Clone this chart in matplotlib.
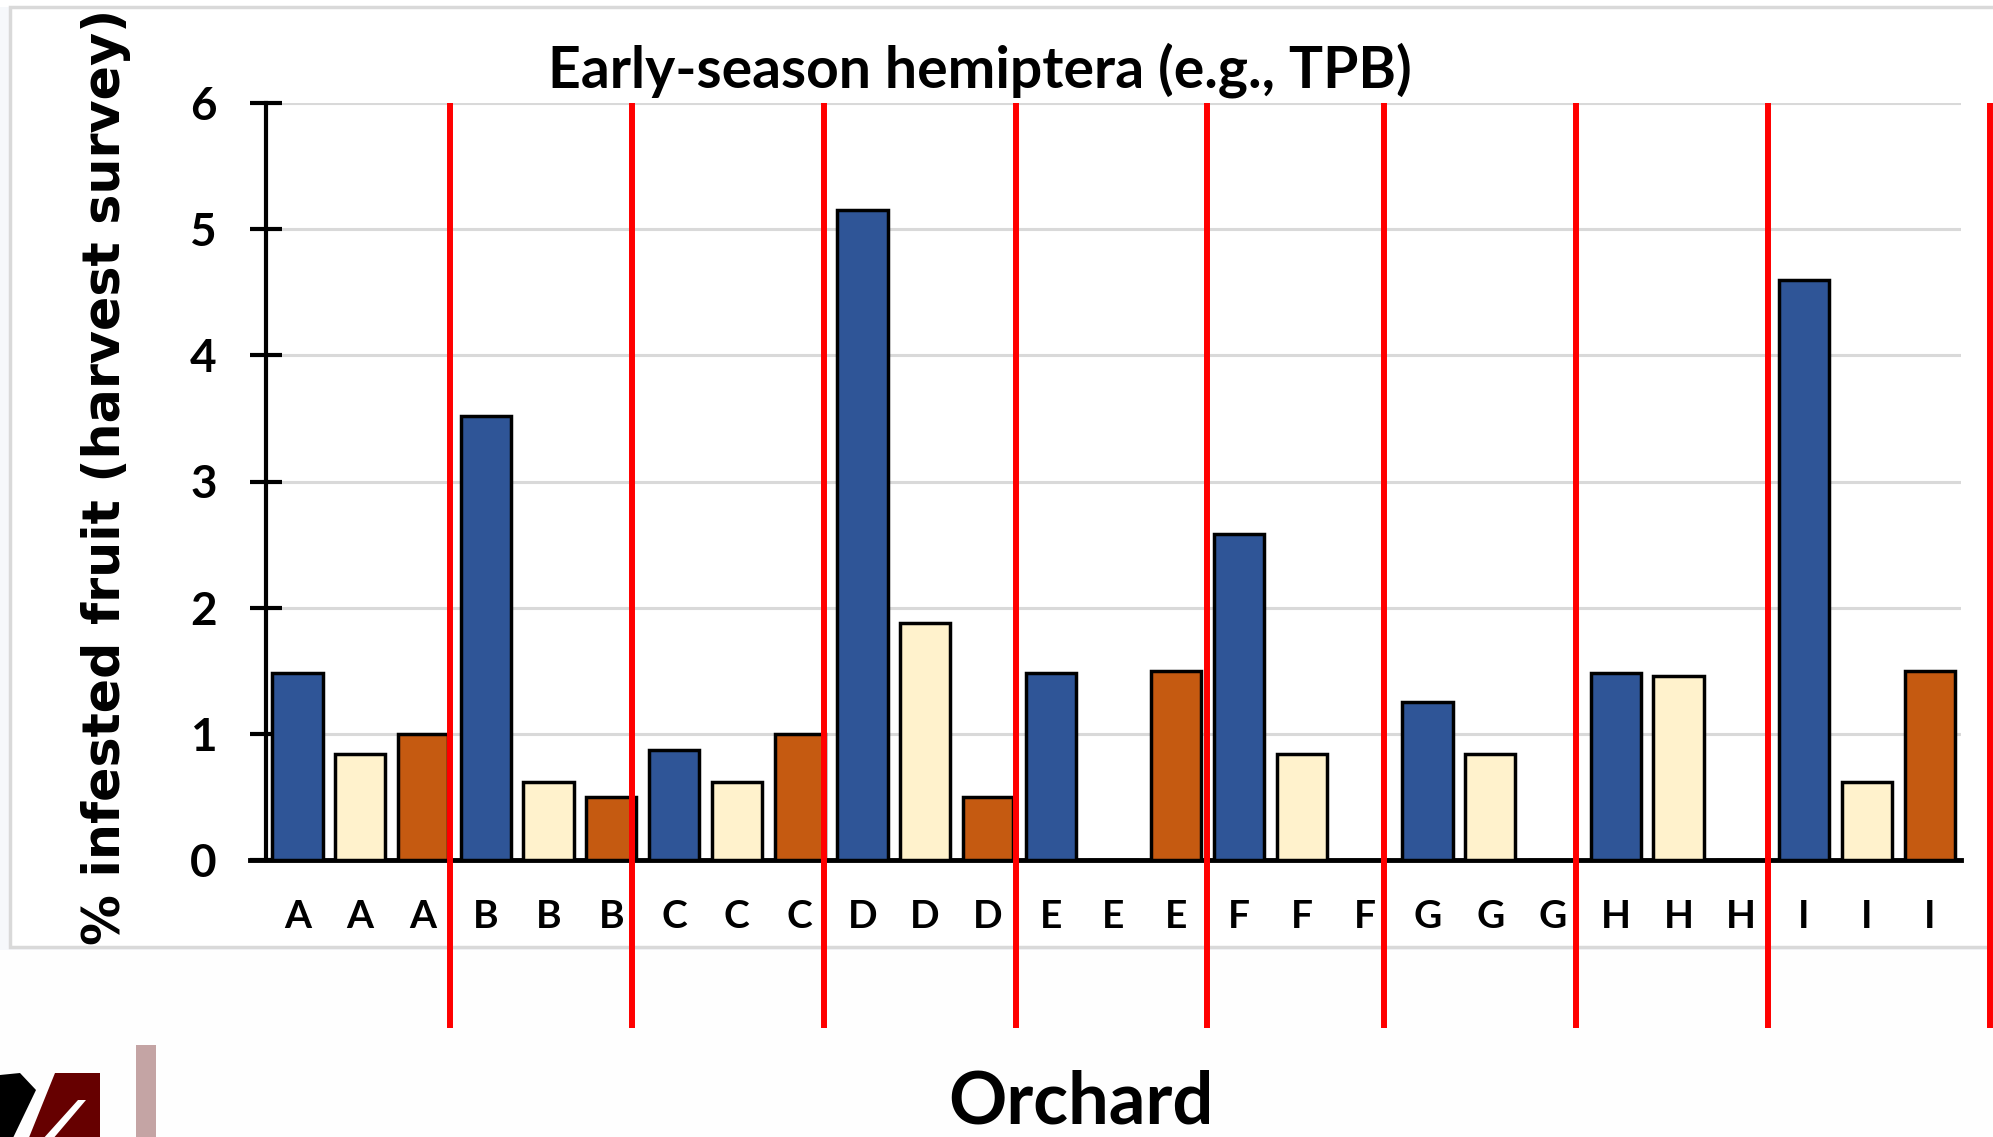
import matplotlib
matplotlib.use("Agg")
import matplotlib.pyplot as plt
from matplotlib.patches import Rectangle, Polygon

plt.rcParams['font.family'] = ['Lato', 'DejaVu Sans']

# harvest survey values, three bars per orchard
orchards = ["A", "B", "C", "D", "E", "F", "G", "H", "I"]
blue_vals = [1.48, 3.52, 0.87, 5.15, 1.48, 2.58, 1.25, 1.48, 4.60]
cream_vals = [0.84, 0.62, 0.62, 1.88, 0.0, 0.84, 0.84, 1.46, 0.62]
orange_vals = [1.0, 0.5, 1.0, 0.5, 1.5, 0.0, 0.0, 0.0, 1.5]
series_colors = ["#2F5597", "#FFF2CC", "#C55A11"]
# red divider lines drawn over the slide (bar index units)
separators = [2.43, 5.33, 8.39, 11.45, 14.49, 17.31, 20.37, 23.42, 26.96]
yticks = [0, 1, 2, 3, 4, 5, 6]

heights, colors, labels = [], [], []
for k, name in enumerate(orchards):
    for vals, c in zip([blue_vals, cream_vals, orange_vals], series_colors):
        heights.append(vals[k])
        colors.append(c)
        labels.append(name)
xpos = list(range(len(heights)))

W, H = 1993, 1137
fig = plt.figure(figsize=(W / 100, H / 100), dpi=100)
fig.patch.set_facecolor("white")

# chart frame of the slide
fig.patches.append(Rectangle((0, 0), 1, 1 - 7 / H, transform=fig.transFigure,
                             facecolor="#F6F8FB", edgecolor="none", zorder=-3))
fig.patches.append(Rectangle((10 / W, 1 - 947 / H), 1.1, (947 - 7) / H, transform=fig.transFigure,
                             facecolor="white", edgecolor="#D9D9D9", linewidth=2.5, zorder=-2))
fig.patches.append(Rectangle((0, 0), 1, 1 - 950 / H, transform=fig.transFigure,
                             facecolor="#FEFEFE", edgecolor="none", zorder=-2))

ax = fig.add_axes([266 / W, 1 - 860 / H, (1961 - 266) / W, (860 - 103) / H])
ax.set_facecolor("none")
ax.bar(xpos, heights, width=0.8, color=colors, edgecolor="black", linewidth=2.5, zorder=3)

ax.set_xlim(-0.5, 26.5)
ax.set_ylim(0, 6)
ax.set_yticks(yticks)
ax.set_yticklabels([str(t) for t in yticks], fontsize=33, fontweight="bold")
ax.set_xticks(xpos)
ax.set_xticklabels(labels, fontsize=28, fontweight="bold")
ax.tick_params(axis="y", direction="inout", length=23, width=3, pad=24)
ax.tick_params(axis="x", length=0, pad=28)
ax.yaxis.grid(True, color="#D9D9D9", linewidth=2.2, zorder=0)
ax.set_axisbelow(True)
for s in ["top", "right"]:
    ax.spines[s].set_visible(False)
ax.spines["left"].set_linewidth(3)
ax.spines["bottom"].set_linewidth(3.5)
ax.spines["bottom"].set_bounds(-0.76, 26.5)

ax.vlines(separators, -1.33, 6, color="#FF0000", linewidth=4.3, clip_on=False, zorder=5)

fig.text(980 / W, 1 - 70 / H, "Early-season hemiptera (e.g., TPB)", fontsize=41,
         fontweight="bold", ha="center", va="center")
fig.text(106 / W, 1 - 477 / H, "% infested fruit (harvest survey)", fontsize=36.5,
         fontweight="bold", family="DejaVu Sans", rotation=90, ha="center", va="center")
fig.text(1081 / W, 1 - 1103 / H, "Orchard", fontsize=52, fontweight="bold",
         ha="center", va="center")

# logo fragment, bottom left
def px(points):
    return [(x / W, 1 - y / H) for x, y in points]

fig.patches.append(Polygon(px([(55, 1073), (100, 1073), (100, 1140), (28, 1140)]),
                           closed=True, transform=fig.transFigure, facecolor="#660000", edgecolor="none"))
fig.patches.append(Polygon(px([(78, 1100), (86, 1100), (52, 1140), (42, 1140)]),
                           closed=True, transform=fig.transFigure, facecolor="white", edgecolor="none"))
fig.patches.append(Polygon(px([(0, 1075), (20, 1073), (36, 1090), (12, 1140), (0, 1140)]),
                           closed=True, transform=fig.transFigure, facecolor="black", edgecolor="none"))
fig.patches.append(Rectangle((136 / W, 0), 20 / W, (1137 - 1045) / H, transform=fig.transFigure,
                             facecolor="#C4A4A4", edgecolor="none"))

fig.savefig("out.png", dpi=100)
